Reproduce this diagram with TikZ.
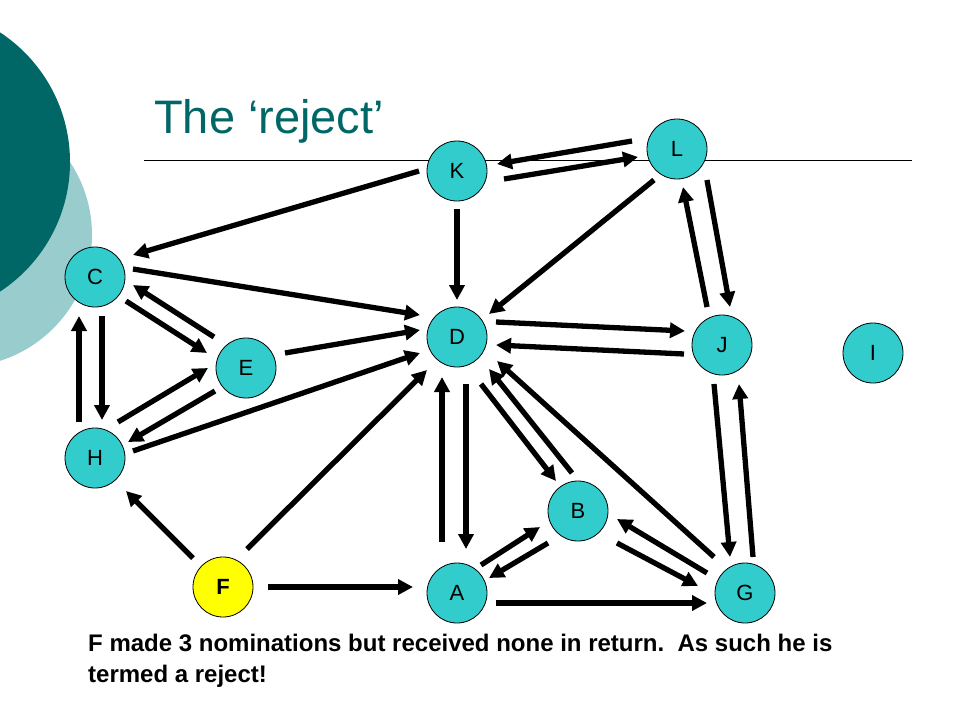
\documentclass[tikz,border=0pt]{standalone}
\usepackage{fontspec}
\setmainfont{Liberation Sans}
\usetikzlibrary{arrows.meta}
\definecolor{darkteal}{RGB}{0,102,102}
\definecolor{lightteal}{RGB}{153,204,204}
\definecolor{nodefill}{RGB}{51,204,204}
\definecolor{fyellow}{RGB}{255,255,0}
\begin{document}
\begin{tikzpicture}[x=1pt,y=-1pt,
  nd/.style={circle,draw=black,line width=0.8pt,fill=nodefill,minimum size=60pt,inner sep=0pt,font=\fontsize{22}{24}\selectfont},
  arr/.style={line width=5.3pt,-{Triangle[length=15pt,width=15pt]}},
  caption/.style={anchor=base west,inner sep=0pt,font=\fontsize{24}{28}\selectfont\bfseries}]
\useasboundingbox (0,0) rectangle (960,720);
% background decoration
\begin{scope}
  \clip (0,0) rectangle (960,720);
  \fill[lightteal] (-40,235) circle[radius=132];
  \fill[darkteal] (-85,162) circle[radius=155];
\end{scope}
% title and rule
\node[anchor=base west,inner sep=0pt,text=darkteal,font=\fontsize{47}{52}\selectfont] (title) at (154,133) {The ‘reject’};
\coordinate (ruleL) at (144,160);
\coordinate (ruleR) at (912,160);
\draw[line width=0.9pt] (ruleL) -- (ruleR);
% nodes
\node[nd] (K) at (457,171) {K};
\node[nd] (L) at (677,149) {L};
\node[nd] (D) at (457,337) {D};
\node[nd] (J) at (722,345) {J};
\node[nd] (I) at (873,353) {I};
\node[nd] (C) at (95,277) {C};
\node[nd] (E) at (246,368) {E};
\node[nd] (H) at (95,458) {H};
\node[nd,fill=fyellow,font=\fontsize{22}{24}\selectfont\bfseries] (F) at (223,587) {F};
\node[nd] (A) at (457,593) {A};
\node[nd] (B) at (578,511) {B};
\node[nd] (G) at (745,593) {G};
% arrows
\draw[arr] ([shift={(-45,-8)}]L.center) -- ([shift={(40,-7)}]K.center);
\draw[arr] ([shift={(47,8)}]K.center) -- ([shift={(-39,8)}]L.center);
\draw[arr] ([shift={(0,38)}]K.center) -- ([shift={(0,-37)}]D.center);
\draw[arr] ([shift={(-23,31)}]L.center) -- ([shift={(32,-23)}]D.center);
\draw[arr] ([shift={(-15,-38)}]J.center) -- ([shift={(6,38)}]L.center);
\draw[arr] ([shift={(30,31)}]L.center) -- ([shift={(8,-38)}]J.center);
\draw[arr] ([shift={(39,-15)}]D.center) -- ([shift={(-37,-14)}]J.center);
\draw[arr] ([shift={(-38,9)}]J.center) -- ([shift={(39,8)}]D.center);
\draw[arr] ([shift={(-38,0)}]K.center) -- ([shift={(38,-22)}]C.center);
\draw[arr] ([shift={(38,-8)}]C.center) -- ([shift={(-37,-22)}]D.center);
\draw[arr] ([shift={(-32,-31)}]E.center) -- ([shift={(38,8)}]C.center);
\draw[arr] ([shift={(31,24)}]C.center) -- ([shift={(-39,-15)}]E.center);
\draw[arr] ([shift={(39,-15)}]E.center) -- ([shift={(-37,-7)}]D.center);
\draw[arr] ([shift={(7,39)}]C.center) -- ([shift={(7,-38)}]H.center);
\draw[arr] ([shift={(-16,-36)}]H.center) -- ([shift={(-16,39)}]C.center);
\draw[arr] ([shift={(23,-36)}]H.center) -- ([shift={(-38,0)}]E.center);
\draw[arr] ([shift={(-31,23)}]E.center) -- ([shift={(33,-16)}]H.center);
\draw[arr] ([shift={(38,-7)}]H.center) -- ([shift={(-37,16)}]D.center);
\draw[arr] ([shift={(-30,-29)}]F.center) -- ([shift={(31,33)}]H.center);
\draw[arr] ([shift={(24,-38)}]F.center) -- ([shift={(-30,33)}]D.center);
\draw[arr] ([shift={(45,0)}]F.center) -- ([shift={(-44,-6)}]A.center);
\draw[arr] ([shift={(9,47)}]D.center) -- ([shift={(9,-44)}]A.center);
\draw[arr] ([shift={(-15,-51)}]A.center) -- ([shift={(-15,40)}]D.center);
\draw[arr] ([shift={(24,47)}]D.center) -- ([shift={(-22,-30)}]B.center);
\draw[arr] ([shift={(-6,-38)}]B.center) -- ([shift={(32,32)}]D.center);
\draw[arr] ([shift={(-31,-36)}]G.center) -- ([shift={(40,24)}]D.center);
\draw[arr] ([shift={(24,-28)}]A.center) -- ([shift={(-38,16)}]B.center);
\draw[arr] ([shift={(-30,32)}]B.center) -- ([shift={(32,-15)}]A.center);
\draw[arr] ([shift={(39,32)}]B.center) -- ([shift={(-47,-7)}]G.center);
\draw[arr] ([shift={(-38,-20)}]G.center) -- ([shift={(39,8)}]B.center);
\draw[arr] ([shift={(39,10)}]A.center) -- ([shift={(-38,10)}]G.center);
\draw[arr] ([shift={(-8,39)}]J.center) -- ([shift={(-15,-36)}]G.center);
\draw[arr] ([shift={(8,-36)}]G.center) -- ([shift={(17,39)}]J.center);
% caption
\node[caption] (cap1) at (88,651) {F made 3 nominations but received none in return.\ \ As such he is};
\node[caption] (cap2) at (88,682) {termed a reject!};
\end{tikzpicture}
\end{document}
